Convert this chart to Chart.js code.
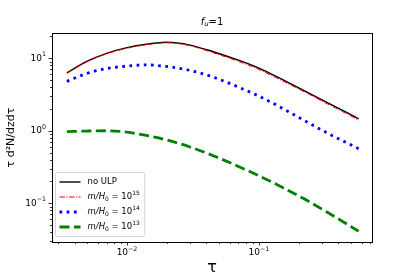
<!DOCTYPE html>
<html>
<head>
<meta charset="utf-8">
<script src="https://cdn.jsdelivr.net/npm/chart.js@4/dist/chart.umd.min.js"></script>
<style>
  html, body { margin: 0; padding: 0; background: #fff; }
  canvas { display: block; }
</style>
</head>
<body>
<canvas id="tauChart" width="415" height="277"></canvas>
<script>
// tau values (x) and the four curves
var tau   = [0.0035, 0.005, 0.007, 0.01, 0.014, 0.02, 0.03, 0.045, 0.07, 0.1, 0.15, 0.22, 0.33, 0.45, 0.57];
var noUlp = [6.3, 9.1, 11.7, 14.0, 15.6, 16.6, 15.2, 12.3, 9.4, 7.3, 5.1, 3.59, 2.45, 1.83, 1.46];
var m15   = [6.2, 8.95, 11.5, 13.75, 15.35, 16.35, 14.9, 11.9, 9.05, 7.0, 4.9, 3.45, 2.35, 1.76, 1.40];
var m14   = [4.8, 6.2, 7.2, 7.8, 8.1, 7.7, 6.8, 5.5, 4.0, 3.0, 2.05, 1.39, 0.93, 0.70, 0.565];
var m13   = [0.973, 0.991, 1.0, 0.955, 0.861, 0.746, 0.597, 0.453, 0.322, 0.239, 0.166, 0.115, 0.075, 0.0535, 0.041];

var seriesNames = ['no ULP', 'm/H0 = 10^15', 'm/H0 = 10^14', 'm/H0 = 10^13'];
var xRange = [0.0027, 0.72];
var yRange = [0.0292, 22.3];

var FONT = '"DejaVu Sans", sans-serif';

function points(ys) {
    return tau.map(function (t, i) { return { x: t, y: ys[i] }; });
}

function isPow10(v) {
    var l = Math.log10(v);
    return Math.abs(l - Math.round(l)) < 1e-9;
}

// major + minor ticks for a log axis
function logTicks(scale) {
    var out = [];
    var d0 = Math.floor(Math.log10(scale.min)), d1 = Math.ceil(Math.log10(scale.max));
    for (var d = d0; d <= d1; d++) {
        for (var k = 1; k < 10; k++) {
            var v = k * Math.pow(10, d);
            if (v >= scale.min && v <= scale.max) out.push({ value: v, major: k === 1 });
        }
    }
    scale.ticks = out;
}

function powParts(v) {
    var e = String(Math.round(Math.log10(v))).replace('-', '\u2212');
    return [{ t: '10' }, { t: e, sup: true }];
}

// legend text: "m/H0 = 10^15" -> mathtext-ish pieces
function labelParts(name) {
    if (name.indexOf('m/H0') !== 0) return [{ t: name }];
    var exp = name.split('^')[1];
    return [{ t: 'm/H', it: true }, { t: '0', sub: true }, { t: ' = 10' }, { t: exp, sup: true }];
}

function drawParts(ctx, parts, x, y, size) {
    parts.forEach(function (p) {
        var s = (p.sub || p.sup) ? size * 0.7 : size;
        ctx.font = (p.it ? 'italic ' : '') + s + 'px ' + FONT;
        var dy = p.sub ? size * 0.25 : (p.sup ? -size * 0.38 : 0);
        ctx.fillText(p.t, x, y + dy);
        x += ctx.measureText(p.t).width;
    });
    return x;
}

function partsWidth(ctx, parts, size) {
    var w = 0;
    parts.forEach(function (p) {
        var s = (p.sub || p.sup) ? size * 0.7 : size;
        ctx.font = (p.it ? 'italic ' : '') + s + 'px ' + FONT;
        w += ctx.measureText(p.t).width;
    });
    return w;
}

var mplLook = {
    id: 'mplLook',
    afterDraw: function (chart) {
        var ctx = chart.ctx, a = chart.chartArea;
        var xs = chart.scales.x, ys = chart.scales.y;
        ctx.save();

        // tick marks
        ctx.strokeStyle = '#000';
        ctx.lineWidth = 0.8;
        ctx.beginPath();
        xs.ticks.forEach(function (t) {
            var px = Math.round(xs.getPixelForValue(t.value)) + 0.5;
            var len = isPow10(t.value) ? 3.5 : 2;
            ctx.moveTo(px, a.bottom); ctx.lineTo(px, a.bottom + len);
        });
        ys.ticks.forEach(function (t) {
            var py = Math.round(ys.getPixelForValue(t.value)) + 0.5;
            var len = isPow10(t.value) ? 3.5 : 2;
            ctx.moveTo(a.left, py); ctx.lineTo(a.left - len, py);
        });
        ctx.stroke();

        // tick labels 10^n
        var tf = 9;
        ctx.fillStyle = '#000';
        ctx.textBaseline = 'middle';
        xs.ticks.forEach(function (t) {
            if (!isPow10(t.value)) return;
            var parts = powParts(t.value);
            var w = partsWidth(ctx, parts, tf);
            drawParts(ctx, parts, xs.getPixelForValue(t.value) - w / 2, a.bottom + 11, tf);
        });
        ys.ticks.forEach(function (t) {
            if (!isPow10(t.value)) return;
            var parts = powParts(t.value);
            var w = partsWidth(ctx, parts, tf);
            drawParts(ctx, parts, a.left - 6 - w, ys.getPixelForValue(t.value), tf);
        });

        // frame
        ctx.lineWidth = 1;
        ctx.strokeStyle = '#000';
        ctx.strokeRect(Math.round(a.left) + 0.5, Math.round(a.top) + 0.5,
            Math.round(a.right - a.left), Math.round(a.bottom - a.top));

        // title  f_u=1
        var tParts = [{ t: 'f', it: true }, { t: 'u', sub: true, it: true }, { t: '=1' }];
        var tw = partsWidth(ctx, tParts, 10);
        drawParts(ctx, tParts, (a.left + a.right) / 2 - tw / 2, 22, 10);

        // legend
        var fs = 8.5, rowH = 15, pad = 4;
        var sets = chart.data.datasets;
        var maxW = 0;
        sets.forEach(function (ds) {
            maxW = Math.max(maxW, partsWidth(ctx, labelParts(ds.label), fs));
        });
        var bw = 32 + maxW + 5, bh = sets.length * rowH + pad;
        var bx = a.left + 3.5, by = a.bottom - 5.5 - bh;
        ctx.beginPath();
        ctx.roundRect(bx, by, bw, bh, 2);
        ctx.fillStyle = 'rgba(255,255,255,0.8)';
        ctx.fill();
        ctx.strokeStyle = '#cccccc';
        ctx.lineWidth = 0.8;
        ctx.stroke();
        sets.forEach(function (ds, i) {
            var cy = by + 2 + rowH / 2 + i * rowH;
            ctx.beginPath();
            ctx.setLineDash(ds.borderDash || []);
            ctx.strokeStyle = ds.borderColor;
            ctx.lineWidth = ds.borderWidth;
            ctx.moveTo(bx + 4, cy);
            ctx.lineTo(bx + 25, cy);
            ctx.stroke();
            ctx.setLineDash([]);
            ctx.fillStyle = '#000';
            ctx.textBaseline = 'middle';
            drawParts(ctx, labelParts(ds.label), bx + 32, cy, fs);
        });

        ctx.restore();
    }
};

new Chart(document.getElementById('tauChart'), {
    type: 'line',
    data: {
        datasets: [
            { label: seriesNames[0], data: points(noUlp), borderColor: '#000000', borderWidth: 1.4, order: 4 },
            { label: seriesNames[1], data: points(m15), borderColor: '#ff0000', borderWidth: 1, borderDash: [5.5, 1.5, 1, 1.5], order: 3 },
            { label: seriesNames[2], data: points(m14), borderColor: '#0000ff', borderWidth: 2.8, borderDash: [2.7, 4.5], order: 2 },
            { label: seriesNames[3], data: points(m13), borderColor: '#008000', borderWidth: 2.8, borderDash: [10, 4.5], order: 1 }
        ]
    },
    options: {
        responsive: false,
        animation: false,
        devicePixelRatio: 1,
        elements: {
            point: { radius: 0 },
            line: { cubicInterpolationMode: 'monotone', fill: false }
        },
        layout: { padding: { top: 33, right: 43, left: 0, bottom: 0 } },
        plugins: {
            legend: { display: false },
            title: { display: false },
            tooltip: { enabled: false }
        },
        scales: {
            x: {
                type: 'logarithmic',
                min: xRange[0],
                max: xRange[1],
                afterBuildTicks: logTicks,
                afterFit: function (s) { s.height = 35; },
                grid: { display: false, drawTicks: false },
                border: { display: false },
                ticks: { display: false, autoSkip: false },
                title: {
                    display: true,
                    text: '\u03C4',
                    color: '#000',
                    padding: { top: 0, bottom: 0 },
                    font: { family: FONT, size: 16 }
                }
            },
            y: {
                type: 'logarithmic',
                min: yRange[0],
                max: yRange[1],
                afterBuildTicks: logTicks,
                afterFit: function (s) { s.width = 52; },
                grid: { display: false, drawTicks: false },
                border: { display: false },
                ticks: { display: false, autoSkip: false },
                title: {
                    display: true,
                    text: '\u03C4 d\u00B2N/dzd\u03C4',
                    color: '#000',
                    padding: { top: 5, bottom: 5 },
                    font: { family: FONT, size: 11 }
                }
            }
        }
    },
    plugins: [mplLook]
});
</script>
</body>
</html>
